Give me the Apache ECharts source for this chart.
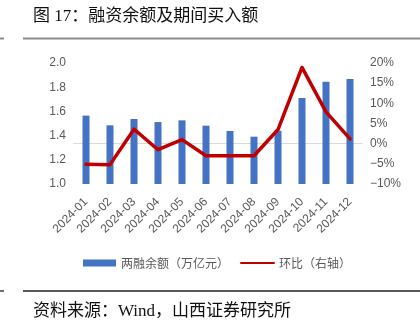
<!DOCTYPE html>
<html>
<head>
<meta charset="utf-8">
<script src="https://cdn.jsdelivr.net/npm/echarts@6/dist/echarts.min.js"></script>
<style>
  html, body { margin: 0; padding: 0; background: #fff; }
  #chart { width: 420px; height: 325px; }
</style>
</head>
<body>
<div id="chart"></div>
<script>
// Monthly margin balance (trillion yuan) and month-on-month change (%)
const months = ['2024-01', '2024-02', '2024-03', '2024-04', '2024-05', '2024-06',
                '2024-07', '2024-08', '2024-09', '2024-10', '2024-11', '2024-12'];
const balance = [1.565, 1.485, 1.537, 1.512, 1.526, 1.482, 1.438, 1.391, 1.440, 1.711, 1.845, 1.868];
const momChange = [-5.1, -5.2, 3.6, -1.5, 1.0, -3.0, -3.0, -3.0, 3.5, 18.9, 7.9, 1.2];

const leftTicks = { min: 1.0, max: 2.0, step: 0.2 };
const rightTicks = { min: -10, max: 20, step: 5 };

const CJK = '"Noto Sans CJK SC", "Noto Sans", sans-serif';
const SERIF = '"Liberation Serif", "Noto Sans CJK SC", serif';
const labelGrey = '#595959';

const chart = echarts.init(document.getElementById('chart'), null, { renderer: 'canvas' });

chart.setOption({
  animation: false,
  backgroundColor: '#ffffff',
  title: {
    text: '图 17：融资余额及期间买入额',
    left: 33,
    top: 8,
    padding: 0,
    textStyle: { fontFamily: SERIF, fontSize: 17, fontWeight: 'normal', color: '#111' }
  },
  graphic: [
    { type: 'line', shape: { x1: 0, y1: 38.5, x2: 4, y2: 38.5 }, style: { stroke: '#8c8c8c', lineWidth: 2 } },
    { type: 'line', shape: { x1: 23, y1: 38.5, x2: 420, y2: 38.5 }, style: { stroke: '#8c8c8c', lineWidth: 2 } },
    { type: 'line', shape: { x1: 0, y1: 291, x2: 4, y2: 291 }, style: { stroke: '#222', lineWidth: 1.3 } },
    { type: 'line', shape: { x1: 23, y1: 291, x2: 420, y2: 291 }, style: { stroke: '#222', lineWidth: 1.3 } },
    {
      type: 'text', left: 33, top: 303,
      style: { text: '资料来源：Wind，山西证券研究所', font: '17px ' + SERIF, fill: '#111' }
    }
  ],
  grid: { left: 74, right: 58, top: 63, bottom: 141, containLabel: false },
  legend: {
    left: 83,
    top: 257,
    padding: 0,
    itemWidth: 33,
    itemHeight: 7,
    itemGap: 11,
    textStyle: { fontFamily: CJK, fontSize: 12, color: labelGrey },
    data: [
      { name: '两融余额（万亿元）', icon: 'rect' },
      { name: '环比（右轴）', itemStyle: { opacity: 0 } }
    ]
  },
  xAxis: {
    type: 'category',
    data: months,
    axisLine: { show: true, lineStyle: { color: '#d9d9d9', width: 1 } },
    axisTick: { show: false },
    axisLabel: {
      rotate: 45,
      margin: 16,
      interval: 0,
      fontFamily: '"Liberation Sans", Arial, sans-serif',
      fontSize: 12,
      color: labelGrey
    }
  },
  yAxis: [
    {
      type: 'value',
      min: leftTicks.min,
      max: leftTicks.max,
      interval: leftTicks.step,
      splitLine: { show: false },
      axisLine: { show: false },
      axisTick: { show: false },
      axisLabel: {
        margin: 8,
        fontFamily: '"Liberation Sans", Arial, sans-serif',
        fontSize: 12,
        color: labelGrey,
        formatter: v => v.toFixed(1)
      }
    },
    {
      type: 'value',
      min: rightTicks.min,
      max: rightTicks.max,
      interval: rightTicks.step,
      splitLine: { show: false },
      axisLine: { show: false },
      axisTick: { show: false },
      axisLabel: {
        margin: 8,
        fontFamily: '"Liberation Sans", Arial, sans-serif',
        fontSize: 12,
        color: labelGrey,
        formatter: v => (v < 0 ? '−' + Math.abs(v) : v) + '%'
      }
    }
  ],
  series: [
    {
      name: '两融余额（万亿元）',
      type: 'bar',
      yAxisIndex: 0,
      data: balance,
      barWidth: 7,
      itemStyle: { color: '#4472C4' }
    },
    {
      name: '环比（右轴）',
      type: 'line',
      yAxisIndex: 1,
      data: momChange,
      symbol: 'none',
      lineStyle: { color: '#C00000', width: 3.5, join: 'round', cap: 'round' },
      itemStyle: { color: '#C00000' }
    }
  ]
});
</script>
</body>
</html>
